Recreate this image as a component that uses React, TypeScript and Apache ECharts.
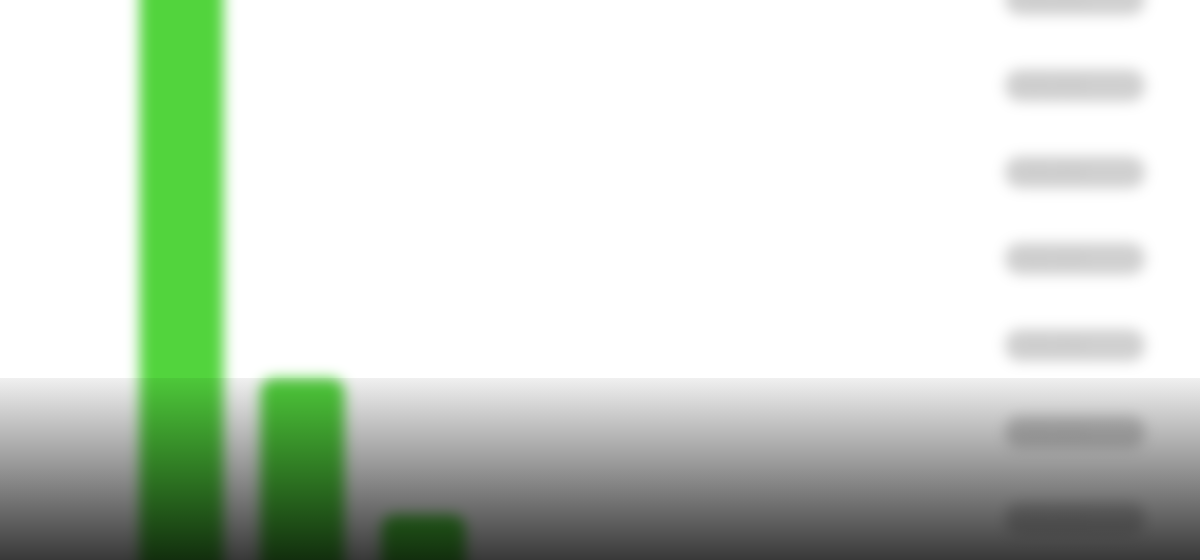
import React, { useEffect, useRef } from "react";
import * as echarts from "echarts";

const categories = ["A", "B", "C", "D", "E", "F", "G"];
const values = [800000, 262000, 104000, 30000, 22000, 15000, 9000];
const yTicks = { min: 0, max: 700000, interval: 100000 };

export default function App() {
  const ref = useRef<HTMLDivElement>(null);
  useEffect(() => {
    document.body.style.margin = "0";
    document.body.style.overflow = "hidden";
    document.documentElement.style.overflow = "hidden";
    const chart = echarts.init(ref.current!, undefined, { renderer: "svg" });
    chart.setOption({
      animation: false,
      backgroundColor: "#ffffff",
      grid: { left: 151, right: 262, top: 29, bottom: 30, containLabel: false },
      xAxis: {
        type: "category",
        data: categories,
        axisLine: { show: false },
        axisTick: { show: false },
        axisLabel: { show: false },
      },
      yAxis: {
        type: "value",
        position: "right",
        min: yTicks.min,
        max: yTicks.max,
        interval: yTicks.interval,
        splitLine: { show: false },
        axisLine: { show: false },
        axisTick: { show: false },
        axisLabel: {
          showMaxLabel: true,
          showMinLabel: false,
          margin: 37,
          align: "left",
          fontFamily: "DejaVu Sans",
          fontSize: 16,
          lineHeight: 18,
          color: "#c6c6c6",
          backgroundColor: "#d0d0d0",
          borderRadius: 15,
          padding: [7, 14],
          width: 112,
        },
      },
      series: [
        {
          type: "bar",
          data: values,
          barWidth: 84,
          clip: false,
          itemStyle: { color: "#52d43d", borderRadius: [14, 14, 0, 0] },
        },
      ],
    });
    return () => chart.dispose();
  }, []);
  return (
    <div style={{ position: "fixed", left: 0, top: 0, width: 1200, height: 560, overflow: "hidden", background: "#fff" }}>
      <div
        ref={ref}
        style={{ position: "absolute", left: -30, top: -30, width: 1260, height: 665, filter: "blur(7px)" }}
      />
      <div
        style={{
          position: "absolute",
          left: 0,
          top: 378,
          width: 1200,
          height: 182,
          background: "linear-gradient(to bottom, rgba(0,0,0,0.06), rgba(0,0,0,0.78))",
        }}
      />
    </div>
  );
}
